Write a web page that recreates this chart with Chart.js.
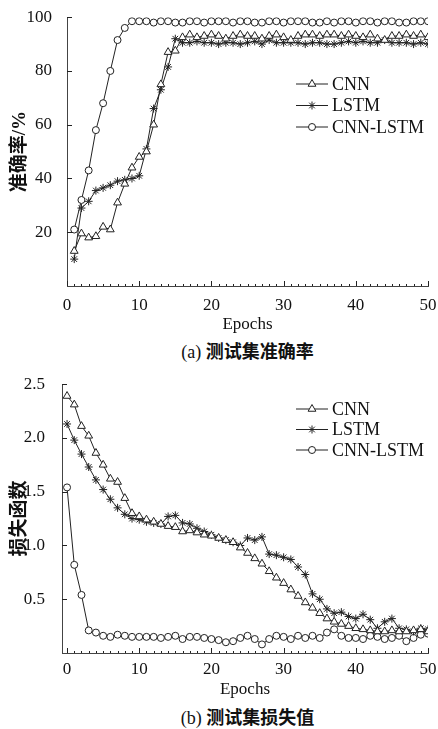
<!DOCTYPE html>
<html lang="zh">
<head>
<meta charset="utf-8">
<script src="https://cdn.jsdelivr.net/npm/chart.js@4.4.0/dist/chart.umd.min.js"></script>
<style>
  body { margin: 0; background: #fff; width: 438px; height: 729px; position: relative; overflow: hidden; }
  canvas { position: absolute; left: 0; }
  #acc { top: 0; }
  #loss { top: 365px; }
  .cap {
    position: absolute; left: 67px; width: 361px; text-align: center;
    font-family: "Liberation Serif", "Noto Sans CJK SC", serif; font-size: 18px; line-height: 20px; color: #111;
  }
  .cap span { font-family: "Noto Sans CJK SC", sans-serif; font-weight: bold; }
</style>
</head>
<body>
<canvas id="acc" width="438" height="336"></canvas>
<div class="cap" style="top:340px">(a) <span>测试集准确率</span></div>
<canvas id="loss" width="438" height="336"></canvas>
<div class="cap" style="top:706px">(b) <span>测试集损失值</span></div>
<script>
// ---- data ----
const seriesNames = ["CNN", "LSTM", "CNN-LSTM"];
const xTicks = [0, 10, 20, 30, 40, 50];
const accTicks = [0, 20, 40, 60, 80, 100];
const lossTicks = [0, 0.5, 1.0, 1.5, 2.0, 2.5];

// accuracy, epochs 1..50
const accEpochs = Array.from({length: 50}, (_, i) => i + 1);
const accCNN = [13, 19.5, 18, 18.5, 22, 21, 31, 38, 44, 48,
  50, 60, 75, 87, 87.5, 92.5, 93.5, 92.5, 93, 93.5,
  93, 92, 93, 93.5, 93, 93, 92, 93, 93.5, 92.5,
  91.5, 93, 93.5, 93.5, 93, 93.5, 93.5, 93, 93.5, 93,
  92.5, 93.5, 92, 91.5, 93, 93, 93.5, 93, 93.5, 92.5];
const accLSTM = [10, 29, 31.5, 35.5, 36.5, 37.5, 39, 39.5, 40, 41,
  51, 66, 73, 81.5, 92, 90.5, 90.5, 91, 90.5, 90.5,
  90, 90.5, 90.5, 90, 90.5, 91, 90, 91.5, 90.5, 90.5,
  90.5, 90.5, 90, 90.5, 90.5, 90, 90, 90.5, 91, 90.5,
  91, 90.5, 90.5, 91.5, 90.5, 90.5, 90.5, 90, 90.5, 90];
const accCNNLSTM = [21, 32, 43, 58, 68, 80, 91.5, 96, 98.5, 98.5,
  98.5, 98, 98.5, 98.5, 98, 98, 98.5, 98.5, 98, 98.5,
  98.5, 98.5, 98, 98.5, 98.5, 98, 98, 98.5, 98.5, 98,
  98.5, 98.5, 98.5, 98, 98, 98.5, 98, 98.5, 98.5, 98,
  98.5, 98.5, 98, 98.5, 98.5, 98, 98, 98.5, 98.5, 98.5];

// loss, epochs 0..50
const lossEpochs = Array.from({length: 51}, (_, i) => i);
const lossCNN = [2.39, 2.31, 2.11, 2.02, 1.86, 1.75, 1.62, 1.59, 1.44, 1.30,
  1.27, 1.24, 1.22, 1.20, 1.18, 1.17, 1.13, 1.14, 1.12, 1.10,
  1.09, 1.07, 1.05, 1.03, 0.98, 0.93, 0.88, 0.83, 0.76, 0.70,
  0.65, 0.59, 0.53, 0.47, 0.42, 0.37, 0.32, 0.29, 0.27, 0.25,
  0.23, 0.22, 0.21, 0.20, 0.20, 0.21, 0.20, 0.20, 0.21, 0.22, 0.20];
const lossLSTM = [2.13, 1.98, 1.85, 1.73, 1.61, 1.52, 1.43, 1.35, 1.29, 1.25,
  1.24, 1.22, 1.21, 1.20, 1.27, 1.28, 1.21, 1.20, 1.16, 1.13,
  1.10, 1.07, 1.05, 1.03, 1.00, 1.07, 1.05, 1.08, 0.92, 0.91,
  0.89, 0.87, 0.80, 0.73, 0.55, 0.50, 0.41, 0.37, 0.38, 0.34,
  0.32, 0.36, 0.31, 0.23, 0.29, 0.32, 0.23, 0.22, 0.20, 0.23, 0.22];
const lossCNNLSTM = [1.54, 0.82, 0.54, 0.21, 0.19, 0.16, 0.15, 0.17, 0.16, 0.15,
  0.15, 0.15, 0.15, 0.14, 0.15, 0.16, 0.13, 0.15, 0.15, 0.14,
  0.13, 0.12, 0.10, 0.11, 0.14, 0.16, 0.13, 0.08, 0.13, 0.16,
  0.15, 0.13, 0.16, 0.14, 0.16, 0.14, 0.19, 0.22, 0.16, 0.14,
  0.14, 0.13, 0.16, 0.15, 0.13, 0.14, 0.16, 0.11, 0.14, 0.17, 0.18];

// ---- drawing ----
const INK = "#222";
const SERIF = "'Liberation Serif', 'Noto Sans CJK SC', serif";
const markers = [
  {style: "triangle", r: 4.5},
  {style: "star", r: 4},
  {style: "circle", r: 3.5}
];

function drawMarker(ctx, style, r, x, y) {
  ctx.beginPath();
  if (style === "circle") {
    ctx.arc(x, y, r, 0, Math.PI * 2);
    ctx.fill(); ctx.stroke();
  } else if (style === "triangle") {
    for (let k = 0; k < 3; k++) {
      const a = k * 2 * Math.PI / 3;
      const px = x + Math.sin(a) * r, py = y - Math.cos(a) * r;
      k ? ctx.lineTo(px, py) : ctx.moveTo(px, py);
    }
    ctx.closePath(); ctx.fill(); ctx.stroke();
  } else {
    for (let k = 0; k < 4; k++) {
      const a = k * Math.PI / 4;
      ctx.moveTo(x - Math.cos(a) * r, y - Math.sin(a) * r);
      ctx.lineTo(x + Math.cos(a) * r, y + Math.sin(a) * r);
    }
    ctx.stroke();
  }
}

// inward ticks + in-plot legend
const decor = {
  id: "decor",
  afterDraw(chart, args, opts) {
    const {ctx, chartArea: a, scales: {x, y}} = chart;
    ctx.save();
    ctx.strokeStyle = INK;
    ctx.lineWidth = 1;
    ctx.beginPath();
    x.ticks.forEach(t => {
      const px = Math.round(x.getPixelForValue(t.value)) + 0.5;
      ctx.moveTo(px, a.bottom); ctx.lineTo(px, a.bottom - 5);
    });
    for (let v = 1; v < 50; v++) {
      if (v % 10 === 0) continue;
      const px = Math.round(x.getPixelForValue(v)) + 0.5;
      ctx.moveTo(px, a.bottom); ctx.lineTo(px, a.bottom - 2);
    }
    y.ticks.forEach(t => {
      if (t.value === 0) return;
      const py = Math.round(y.getPixelForValue(t.value)) + 0.5;
      ctx.moveTo(a.left, py); ctx.lineTo(a.left + 5, py);
    });
    ctx.stroke();

    ctx.font = "18px " + SERIF;
    ctx.textBaseline = "middle";
    ctx.fillStyle = "#111";
    chart.data.datasets.forEach((ds, i) => {
      const yy = opts.y + i * opts.gap;
      ctx.strokeStyle = INK;
      ctx.beginPath();
      ctx.moveTo(opts.x, yy); ctx.lineTo(opts.x + 32, yy);
      ctx.stroke();
      ctx.fillStyle = "#fff";
      drawMarker(ctx, markers[i].style, markers[i].r, opts.x + 16, yy);
      ctx.fillStyle = "#111";
      ctx.fillText(ds.label, opts.x + 36, yy + 1);
    });
    ctx.restore();
  }
};

function makeDatasets(xs, lists) {
  return lists.map((vals, i) => ({
    label: seriesNames[i],
    data: vals.map((v, j) => ({x: xs[j], y: v})),
    borderColor: INK,
    borderWidth: 1,
    pointStyle: markers[i].style,
    pointRadius: markers[i].r,
    pointBackgroundColor: "#fff",
    pointBorderColor: INK,
    pointBorderWidth: 1,
    tension: 0
  }));
}

function makeChart(id, cfg) {
  return new Chart(document.getElementById(id), {
    type: "line",
    data: {datasets: makeDatasets(cfg.xs, cfg.lists)},
    plugins: [decor],
    options: {
      responsive: false,
      animation: false,
      layout: {padding: {top: cfg.top, right: 10, left: 0, bottom: 0}},
      plugins: {
        legend: {display: false},
        tooltip: {enabled: false},
        decor: cfg.legend
      },
      scales: {
        x: {
          type: "linear",
          min: cfg.xMin, max: 50,
          afterBuildTicks: s => { s.ticks = xTicks.map(v => ({value: v})); },
          afterFit: s => { s.height = 336 - cfg.bottom; },
          grid: {display: false},
          border: {display: true, color: "#444", width: 1},
          ticks: {color: "#111", padding: cfg.xPad, maxRotation: 0, font: {family: SERIF, size: 17}},
          title: {display: true, text: "Epochs", color: "#111", padding: {top: 0, bottom: 1},
                  font: {family: SERIF, size: 17}}
        },
        y: {
          min: cfg.yTicks[0], max: cfg.yTicks[cfg.yTicks.length - 1],
          afterBuildTicks: s => { s.ticks = cfg.yTicks.map(v => ({value: v})); },
          afterFit: s => { s.width = cfg.left; },
          grid: {display: false},
          border: {display: true, color: "#444", width: 1},
          ticks: {color: "#111", padding: cfg.yPad, font: {family: SERIF, size: 17},
                  callback: cfg.fmt},
          title: {display: true, text: cfg.yTitle, color: "#111", padding: {top: 9, bottom: 0},
                  font: {family: SERIF, size: 19, weight: "bold"}}
        }
      }
    }
  });
}

makeChart("acc", {
  xs: accEpochs, lists: [accCNN, accLSTM, accCNNLSTM],
  xMin: 0, yTicks: accTicks, top: 13, bottom: 286, left: 67,
  xPad: 1, yPad: 7, yTitle: "准确率/%",
  fmt: v => v === 0 ? "" : v,
  legend: {x: 296, y: 84, gap: 21.5}
});

makeChart("loss", {
  xs: lossEpochs, lists: [lossCNN, lossLSTM, lossCNNLSTM],
  xMin: -0.7, yTicks: lossTicks, top: 16, bottom: 288, left: 62,
  xPad: -2, yPad: 9, yTitle: "损失函数",
  fmt: v => v === 0 ? "" : v.toFixed(1),
  legend: {x: 296, y: 44, gap: 20.5}
});
</script>
</body>
</html>
